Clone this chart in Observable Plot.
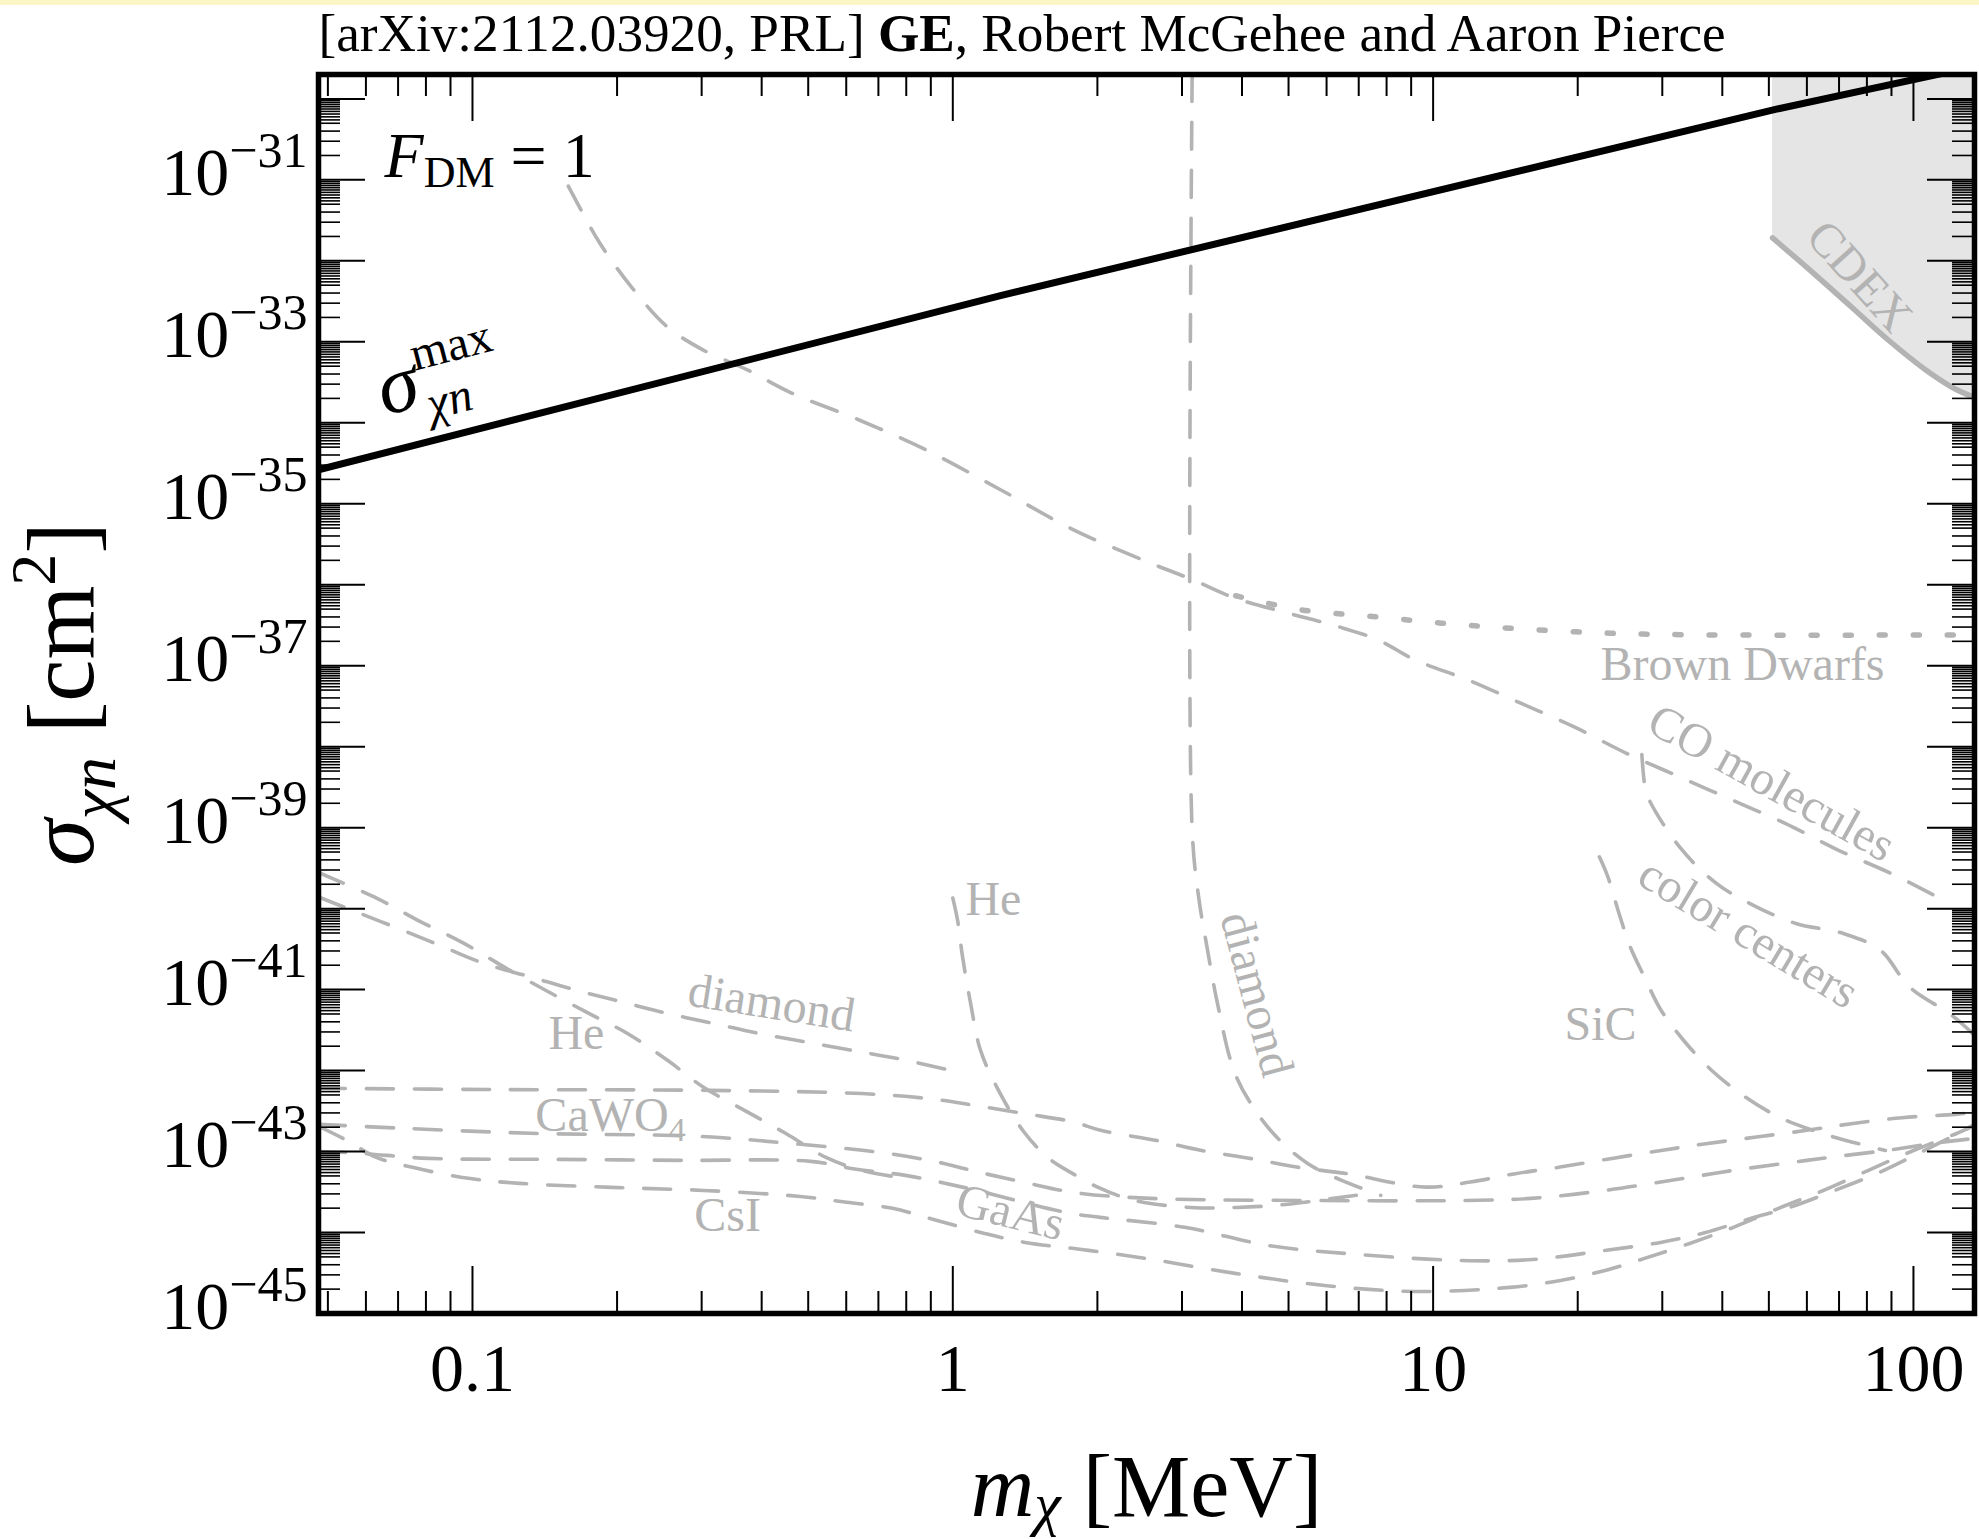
<!DOCTYPE html>
<html><head><meta charset="utf-8">
<script src="https://cdn.jsdelivr.net/npm/d3@7"></script>
<script src="https://cdn.jsdelivr.net/npm/@observablehq/plot@0.6"></script>
<style>
html,body{margin:0;padding:0;background:#fff;}
#band{position:absolute;left:0;top:0;width:1979px;height:5px;background:#fcf6c6;}
#chart{position:absolute;left:0;top:0;}
</style></head><body><div id="chart"></div><div id="band"></div>
<script>
// ---------- data (m_chi in MeV, sigma in cm^2) ----------
const xDomain = [0.0478, 134];
const yDomain = [1e-45, 2e-30];

const sigmaMax = [[0.0478,2.63e-35],[1.257,3.72e-33],[51.6,7.41e-31],[112.5,2.01e-30],[134,2.5e-30]];
const coMolecules = [[0.1583,8.36e-32],[0.1652,5.21e-32],[0.1839,1.67e-32],[0.2137,4.85e-33],[0.2535,1.56e-33],[0.3010,8.02e-34],[0.3726,4.53e-34],[0.4617,2.33e-34],[0.6365,1.09e-34],[0.8774,4.65e-35],[1.257,1.49e-35],[1.784,4.77e-36],[2.58,1.85e-36],[3.16,1.15e-36],[3.87,6.83e-37],[5.05,4.37e-37],[6.27,3.10e-37],[7.68,2.08e-37],[9.17,1.18e-37],[11.81,6.68e-38],[15.22,3.44e-38],[19.62,1.77e-38],[25.26,8.28e-39],[32.56,4.25e-39],[41.95,2.19e-39],[54.07,1.13e-39],[69.66,5.29e-40],[89.75,2.72e-40],[115.6,1.27e-40]];
const brownDwarfs = [[3.88,7.30e-37],[5.30,4.90e-37],[7.48,4.05e-37],[10.41,3.35e-37],[14.49,2.90e-37],[23.4,2.52e-37],[37.8,2.40e-37],[134,2.40e-37]];
const diamondRight = [[3.15,2e-30],[3.15,9.33e-40],[3.249,1.40e-40],[3.382,3.37e-41],[3.569,6.11e-42],[3.869,9.18e-43],[4.31,2.94e-43],[4.80,1.37e-43],[5.49,7.08e-44],[6.45,4.41e-44],[7.78,2.88e-44]];
const colorCenters = [[27.2,8.0e-39],[27.57,3.37e-39],[27.97,2.41e-39],[32.56,5.81e-40],[38.88,2.05e-40],[46.44,1.10e-40],[56.89,6.56e-41],[71.46,4.93e-41],[85.33,3.07e-41],[98.1,1.08e-41],[120.2,4.82e-42],[134,2.73e-42]];
const sic = [[22.19,4.37e-40],[23.11,2.47e-40],[24.38,8.72e-41],[25.73,3.37e-41],[27.52,1.44e-41],[29.82,5.56e-42],[33.21,2.37e-42],[37.98,1.01e-42],[44.63,4.72e-43],[52.46,2.67e-43],[61.63,1.83e-43],[72.4,1.37e-43],[87.4,1.03e-43]];
const heLeft = [[0.0478,2.8e-40],[0.0633,1.34e-40],[0.0768,7.21e-41],[0.0958,3.75e-41],[0.1223,1.60e-41],[0.1727,5.26e-42],[0.2098,2.89e-42],[0.2547,1.34e-42],[0.3027,6.22e-43],[0.3684,3.23e-43],[0.4484,1.68e-43],[0.5445,8.47e-44],[0.6454,5.86e-44],[0.7970,4.67e-44]];
const diamondLeft = [[0.0478,1.39e-40],[0.0560,9.59e-41],[0.0715,5.42e-41],[0.0870,3.37e-41],[0.1058,2.10e-41],[0.1318,1.44e-41],[0.1642,9.84e-42],[0.2047,7.05e-42],[0.2549,5.07e-42],[0.3179,3.81e-42],[0.3963,2.86e-42],[0.4937,2.26e-42],[0.6152,1.78e-42],[0.7671,1.41e-42],[0.9656,1.04e-42]];
const heRight = [[1.0,1.35e-40],[1.023,7.21e-41],[1.048,2.52e-41],[1.089,6.79e-42],[1.142,1.78e-42],[1.245,5.70e-43],[1.403,1.78e-43],[1.575,8.47e-44],[1.759,5.53e-44],[2.030,3.51e-44],[2.389,2.49e-44],[3.125,2.04e-44],[3.916,2.04e-44],[4.93,2.22e-44],[6.20,2.64e-44],[7.37,3.04e-44]];
const caWO4 = [[0.0478,6.04e-43],[0.1166,5.82e-43],[0.3102,5.70e-43],[0.6461,5.20e-43],[0.8884,4.51e-43],[1.107,3.73e-43],[1.413,2.94e-43],[1.783,2.32e-43],[2.03,1.83e-43],[2.656,1.37e-43],[3.295,1.03e-43],[4.19,8.17e-44],[5.20,6.43e-44],[6.62,5.33e-44],[9.64,3.64e-44],[11.96,4.20e-44],[14.83,5.33e-44],[18.38,6.43e-44],[23.41,8.17e-44],[29.82,1.03e-43],[36.98,1.25e-43],[47.1,1.51e-43],[60.0,1.83e-43],[74.3,2.21e-43],[94.7,2.62e-43],[122.3,2.88e-43],[134,3.05e-43]];
const lineB = [[0.0478,2.17e-43],[0.0715,1.94e-43],[0.1320,1.68e-43],[0.2955,1.54e-43],[0.4593,1.26e-43],[0.7311,9.50e-44],[0.9337,7.35e-44],[1.137,5.53e-44],[1.411,4.16e-44],[1.783,3.13e-44],[2.580,2.64e-44],[5.30,2.49e-44],[11.63,2.49e-44],[15.95,2.64e-44],[22.75,3.31e-44],[33.22,4.67e-44],[42.2,5.86e-44],[53.9,7.14e-44],[66.9,8.47e-44],[87.5,1.03e-43],[114.4,1.30e-43],[134.7,1.46e-43]];
const gaAs = [[0.0478,1.00e-43],[0.0587,9.50e-44],[0.0810,8.24e-44],[0.1489,8.01e-44],[0.2750,7.78e-44],[0.5056,7.57e-44],[0.6299,6.03e-44],[0.7970,5.08e-44],[1.053,3.61e-44],[1.717,1.77e-44],[2.030,1.54e-44],[3.037,1.16e-44],[4.54,6.92e-45],[6.99,5.36e-45],[11.35,4.52e-45],[16.11,4.65e-45],[22.75,6.01e-45],[29.76,7.55e-45],[36.9,1.00e-44],[45.8,1.49e-44],[55.2,2.04e-44],[68.5,3.31e-44],[85.0,5.53e-44],[102.5,9.50e-44],[124.2,1.68e-43],[135,2.17e-43]];
const csI = [[0.0478,2.05e-43],[0.0547,1.38e-43],[0.0631,8.47e-44],[0.0750,6.38e-44],[0.0981,4.67e-44],[0.1253,4.05e-44],[0.1946,3.61e-44],[0.3027,3.31e-44],[0.4816,2.79e-44],[0.6005,2.36e-44],[0.7489,1.99e-44],[0.9118,1.45e-44],[1.164,9.75e-45],[1.414,7.55e-45],[1.854,6.18e-45],[2.518,4.79e-45],[3.869,3.13e-45],[5.94,2.22e-45],[9.15,1.87e-45],[14.42,2.10e-45],[18.42,2.56e-45],[22.80,3.40e-45],[27.55,4.79e-45],[34.2,7.33e-45],[42.2,1.16e-44],[52.4,1.99e-44],[65.0,3.31e-44],[80.6,5.86e-44],[100,1.03e-43],[127.2,1.83e-43],[135,2.23e-43]];
const cdex = [[50.9,1.92e-32],[61.8,7.11e-33],[74.0,2.75e-33],[88.5,1.06e-33],[105.9,4.53e-34],[123.0,2.56e-34],[138,1.93e-34]];

const regionLabels = [
  {t:"Brown Dwarfs", m:44.08, s:1.02e-37, r:0},
  {t:"CO molecules", m:50.65, s:3.56e-39, r:29},
  {t:"color centers", m:45.37, s:4.98e-41, r:31},
  {t:"SiC", m:22.31, s:3.73e-42, r:0},
  {t:"diamond", m:4.29, s:8.77e-42, r:75},
  {t:"He", m:1.215, s:1.31e-40, r:0},
  {t:"He", m:0.1646, s:2.89e-42, r:0},
  {t:"diamond", m:0.4194, s:6.79e-42, r:9},
  {t:"CaWO4", m:0.1938, s:2.80e-43, r:0},
  {t:"CsI", m:0.3397, s:1.63e-44, r:0},
  {t:"GaAs", m:1.318, s:1.77e-44, r:14},
  {t:"CDEX", m:77.2, s:6.40e-33, r:48}
];
const sigmaLabelPos = [[0.0656, 1.22e-34]];
const fdmLabelPos = [[0.0656, 1.07e-31]];

const xTickVals = [0.1, 1, 10, 100];
const xTickLabels = ["0.1", "1", "10", "100"];
const xMinorMantissa = [2,3,4,5,6,7,8,9];
const yTickExp = [-31, -33, -35, -37, -39, -41, -43, -45];
const yMinorMantissa = [2,3,4,5,5.5,6,6.5,7,7.5,8,8.5,9,9.5];
const titleParts = ["[arXiv:2112.03920, PRL] ", "GE", ", Robert McGehee and Aaron Pierce"];

// ---------- derived tick sets ----------
const xMinor = [];
for (let e = -2; e <= 2; e++) for (const k of xMinorMantissa) { const v = k * 10 ** e; if (v > xDomain[0] && v < xDomain[1]) xMinor.push(v); }
const yMajor = [];
for (let e = -45; e <= -30; e++) yMajor.push(Number(`1e${e}`));
const yMinor = [];
for (let e = -46; e <= -30; e++) for (const k of yMinorMantissa) { const v = Number(`${k}e${e}`); if (v > yDomain[0] && v < yDomain[1]) yMinor.push(v); }

// ---------- layout ----------
const W = 1979, H = 1539, mL = 318, mR = 5, mT = 74, mB = 226;
const fw = W - mL - mR, fh = H - mT - mB;
const GRAY = "#b3b3b3";
const FONT = "'Liberation Serif', 'Times New Roman', serif";
const dashed = (data, o = {}) => Plot.line(data, {x: d => d[0], y: d => d[1], stroke: GRAY, strokeWidth: 3.6, strokeDasharray: "27,21", curve: "catmull-rom", clip: true, ...o});
const MAJ = 47, MIN = 22;

const chart = Plot.plot({
  width: W, height: H,
  marginLeft: mL, marginRight: mR, marginTop: mT, marginBottom: mB,
  style: {fontFamily: FONT, background: "transparent", overflow: "visible"},
  x: {type: "log", domain: xDomain, axis: null},
  y: {type: "log", domain: yDomain, axis: null},
  marks: [
    Plot.areaY(cdex, {x: d => d[0], y1: d => d[1], y2: () => yDomain[1], fill: "#e5e5e5", curve: "catmull-rom", clip: true}),
    Plot.line(cdex, {x: d => d[0], y: d => d[1], stroke: GRAY, strokeWidth: 5.5, curve: "catmull-rom", clip: true}),
    dashed(coMolecules),
    dashed(brownDwarfs, {strokeDasharray: "6,28", strokeWidth: 5.5}),
    dashed(diamondRight),
    dashed(colorCenters),
    dashed(sic),
    dashed(heLeft),
    dashed(diamondLeft),
    dashed(heRight),
    dashed(caWO4),
    dashed(lineB),
    dashed(gaAs),
    dashed(csI),
    Plot.line(sigmaMax, {x: d => d[0], y: d => d[1], stroke: "black", strokeWidth: 7, clip: true}),
    Plot.text(regionLabels, {x: "m", y: "s", text: "t", rotate: "r", fill: GRAY, fontSize: 48, fontFamily: FONT}),
    Plot.text(fdmLabelPos, {x: d => d[0], y: d => d[1], text: () => "@FDM", textAnchor: "start", lineAnchor: "bottom", fontSize: 64, fontFamily: FONT, fill: "black"}),
    Plot.text(sigmaLabelPos, {x: d => d[0], y: d => d[1], text: () => "@SIG", textAnchor: "start", lineAnchor: "bottom", rotate: -14.5, fontSize: 82, fontFamily: FONT, fill: "black"}),
    // ticks: bottom/top
    Plot.tickX(xTickVals, {x: d => d, insetTop: fh - MAJ, stroke: "black", strokeWidth: 2}),
    Plot.tickX(xTickVals, {x: d => d, insetBottom: fh - MAJ, stroke: "black", strokeWidth: 2}),
    Plot.tickX(xMinor, {x: d => d, insetTop: fh - MIN, stroke: "black", strokeWidth: 2}),
    Plot.tickX(xMinor, {x: d => d, insetBottom: fh - MIN, stroke: "black", strokeWidth: 2}),
    // ticks: left/right
    Plot.tickY(yMajor, {y: d => d, insetRight: fw - MAJ, stroke: "black", strokeWidth: 2}),
    Plot.tickY(yMajor, {y: d => d, insetLeft: fw - MAJ, stroke: "black", strokeWidth: 2}),
    Plot.tickY(yMinor, {y: d => d, insetRight: fw - MIN, stroke: "black", strokeWidth: 1.6}),
    Plot.tickY(yMinor, {y: d => d, insetLeft: fw - MIN, stroke: "black", strokeWidth: 1.6}),
    Plot.frame({stroke: "black", strokeWidth: 5.5}),
    // tick labels
    Plot.text(xTickVals, {x: d => d, text: (d, i) => xTickLabels[i], frameAnchor: "bottom", lineAnchor: "bottom", dy: 77, fontSize: 68, fontFamily: FONT, fill: "black"}),
    Plot.text(yTickExp, {y: e => Number(`1e${e}`), text: e => `@Y10|${e < 0 ? "\u2212" : ""}${Math.abs(e)}`, frameAnchor: "left", textAnchor: "end", lineAnchor: "bottom", dx: -11, dy: 15, fontSize: 68, fontFamily: FONT, fill: "black"}),
    // axis labels and title
    Plot.text(["@YLAB"], {frameAnchor: "left", rotate: -90, textAnchor: "middle", lineAnchor: "bottom", dx: -226, fontSize: 95, fontFamily: FONT, fill: "black"}),
    Plot.text(["@XLAB"], {frameAnchor: "bottom", textAnchor: "middle", lineAnchor: "bottom", dy: 202, fontSize: 88, fontFamily: FONT, fill: "black"}),
    Plot.text(["@TITLE"], {frameAnchor: "top-left", textAnchor: "start", lineAnchor: "bottom", dy: -24, fontSize: 53.2, fontFamily: FONT, fill: "black"})
  ]
});
document.getElementById("chart").appendChild(chart);

// ---------- rich text (sub/superscripts, italics, bold) ----------
function rich(node, parts) {
  const el = d3.select(node);
  el.text(null);
  let cur = 0, prev = null;
  for (const p of parts) {
    const ts = el.append("tspan").text(p.t);
    if (p.size) ts.attr("font-size", p.size);
    if (p.italic) ts.attr("font-style", "italic");
    if (p.bold) ts.attr("font-weight", "bold");
    const sh = p.shift || 0;
    if (sh !== cur) ts.attr("dy", sh - cur);
    cur = sh;
    let dx = p.dx || 0;
    if (p.back && prev) dx -= prev.node().getComputedTextLength();
    if (dx) ts.attr("dx", dx);
    prev = ts;
  }
}
d3.select(chart).selectAll("text").each(function () {
  const s = this.textContent;
  if (s.startsWith("@Y10|")) {
    rich(this, [{t: "10"}, {t: s.slice(5), size: 50, shift: -28}]);
  } else if (s === "@TITLE") {
    rich(this, [{t: titleParts[0]}, {t: titleParts[1], bold: true}, {t: titleParts[2]}]);
  } else if (s === "@YLAB") {
    rich(this, [{t: "\u03c3", italic: true}, {t: "\u03c7n", italic: true, size: 66, shift: 22}, {t: " [cm"}, {t: "2", size: 64, shift: -38}, {t: "]"}]);
  } else if (s === "@XLAB") {
    rich(this, [{t: "m", italic: true}, {t: "\u03c7", italic: true, size: 60, shift: 8}, {t: " [MeV]"}]);
  } else if (s === "@FDM") {
    rich(this, [{t: "F", italic: true}, {t: "DM", size: 44, shift: 10}, {t: " = 1"}]);
  } else if (s === "@SIG") {
    rich(this, [{t: "\u03c3", italic: true}, {t: "max", size: 48, shift: -36}, {t: "\u03c7n", italic: true, size: 48, shift: 16, back: true, dx: 4}]);
  } else if (s === "CaWO4") {
    rich(this, [{t: "CaWO"}, {t: "4", size: 34, shift: 10}]);
  }
});
</script></body></html>
